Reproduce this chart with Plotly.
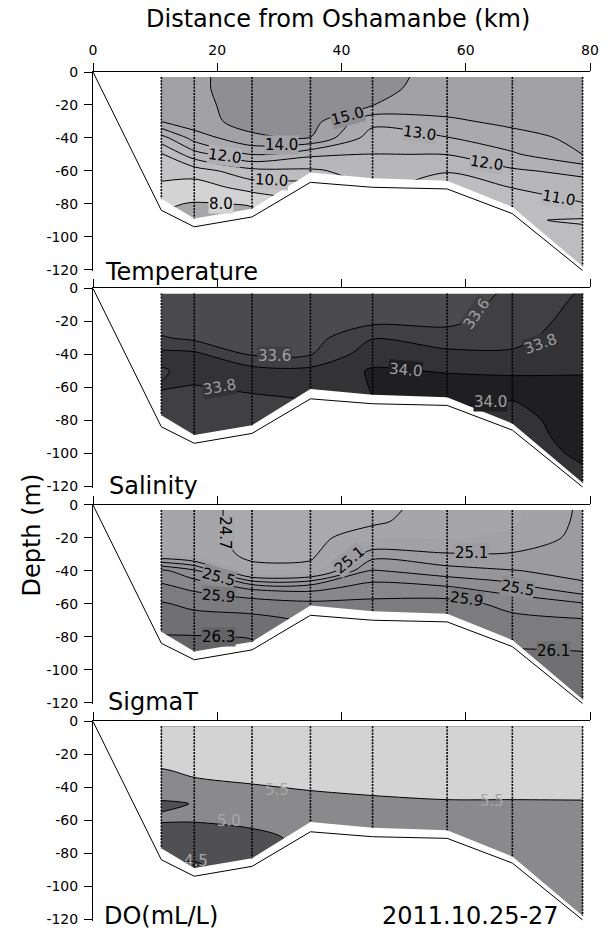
import plotly.graph_objects as go

# ---------------------------------------------------------------
# Section geometry
# ---------------------------------------------------------------
# station positions along the section (km from Oshamanbe)
stations_km = [11.0, 16.3, 25.6, 35.0, 45.0, 57.0, 67.5, 78.8]
# sampling depths of every profile (m)
depth_m = [-3, -10, -20, -30, -40, -50, -60, -70, -80, -90, -100, -110, -120]
# deepest sample at each station (m)
sample_bottom_m = [-77, -89, -83, -61, -64.5, -66, -82, -118]
# sea-floor profile
floor_km = [0.0, 11.0, 16.3, 25.6, 35.0, 45.0, 57.0, 67.5, 78.8]
floor_m = [0, -84, -94, -88, -67, -70, -71, -86, -120.5]

# ---------------------------------------------------------------
# Temperature (deg C), one profile per station
# ---------------------------------------------------------------
temp_11 = [14.6, 14.6, 14.5, 14.02, 11.6, 9.9, 9.35, 8.8, 8.1, 7.9, 7.9, 7.9, 7.9]
temp_16 = [14.8, 14.8, 14.75, 14.7, 13.4, 11.6, 9.5, 8.5, 7.95, 7.7, 7.7, 7.7, 7.7]
temp_26 = [15.5, 15.5, 15.4, 15.3, 14.85, 13.02, 10.7, 9.4, 8.05, 7.8, 7.8, 7.8, 7.8]
temp_35 = [15.6, 15.6, 15.5, 15.4, 14.98, 12.2, 10.85, 9.6, 9.02, 8.8, 8.8, 8.8, 8.8]
temp_45 = [15.4, 15.3, 15.02, 13.3, 12.5, 11.98, 11.4, 11.2, 10.98, 10.9, 10.9, 10.9, 10.9]
temp_57 = [14.6, 14.55, 14.4, 13.85, 12.95, 12.02, 11.05, 10.6, 10.4, 10.3, 10.3, 10.3, 10.3]
temp_67 = [14.5, 14.45, 14.35, 14.2, 13.7, 12.85, 11.85, 11.02, 10.5, 10.1, 10.2, 10.2, 10.2]
temp_79 = [14.4, 14.4, 14.35, 14.3, 14.2, 14.03, 12.3, 11.5, 10.95, 9.9, 10.3, 10.4, 10.4]

# ---------------------------------------------------------------
# Salinity
# ---------------------------------------------------------------
sal_11 = [33.45, 33.45, 33.5, 33.62, 33.86, 33.78, 33.81, 33.75, 33.72, 33.72, 33.72, 33.72, 33.72]
sal_16 = [33.45, 33.45, 33.48, 33.55, 33.85, 33.86, 33.79, 33.74, 33.72, 33.72, 33.72, 33.72, 33.72]
sal_26 = [33.45, 33.45, 33.47, 33.5, 33.58, 33.88, 33.83, 33.75, 33.73, 33.72, 33.72, 33.72, 33.72]
sal_35 = [33.45, 33.46, 33.48, 33.52, 33.59, 33.86, 33.85, 33.79, 33.78, 33.78, 33.78, 33.78, 33.78]
sal_45 = [33.42, 33.45, 33.55, 33.79, 33.92, 34.02, 34.01, 33.99, 33.98, 33.98, 33.98, 33.98, 33.98]
sal_57 = [33.45, 33.48, 33.55, 33.7, 33.85, 33.99, 34.06, 34.01, 33.98, 33.97, 33.97, 33.97, 33.97]
sal_67 = [33.65, 33.68, 33.72, 33.76, 33.82, 33.98, 34.05, 33.99, 33.95, 33.94, 33.94, 33.94, 33.94]
sal_79 = [33.82, 33.84, 33.86, 33.88, 33.92, 33.98, 34.06, 34.08, 34.07, 34.05, 34.02, 33.99, 33.98]

# ---------------------------------------------------------------
# Sigma-T
# ---------------------------------------------------------------
sigt_11 = [24.75, 24.76, 24.8, 24.88, 25.75, 25.95, 26.12, 26.22, 26.31, 26.36, 26.38, 26.38, 26.38]
sigt_16 = [24.74, 24.74, 24.75, 24.78, 25.55, 25.85, 26.05, 26.18, 26.31, 26.38, 26.4, 26.4, 26.4]
sigt_26 = [24.66, 24.66, 24.66, 24.67, 24.74, 25.65, 26.02, 26.15, 26.29, 26.35, 26.36, 26.36, 26.36]
sigt_35 = [24.6, 24.6, 24.62, 24.64, 24.8, 25.62, 25.95, 26.08, 26.12, 26.14, 26.14, 26.14, 26.14]
sigt_45 = [24.6, 24.65, 24.85, 25.2, 25.52, 25.78, 25.95, 26.05, 26.08, 26.08, 26.08, 26.08, 26.08]
sigt_57 = [24.85, 24.86, 24.88, 25.12, 25.38, 25.72, 25.98, 26.05, 26.08, 26.08, 26.08, 26.08, 26.08]
sigt_67 = [24.86, 24.87, 24.94, 25.12, 25.31, 25.58, 25.84, 25.95, 26.04, 26.12, 26.14, 26.14, 26.14]
sigt_79 = [25.14, 25.15, 25.17, 25.2, 25.24, 25.34, 25.72, 25.92, 26.02, 26.11, 26.16, 26.18, 26.19]

# ---------------------------------------------------------------
# Dissolved oxygen (mL/L)
# ---------------------------------------------------------------
do_11 = [6.0, 6.0, 5.8, 5.45, 5.2, 4.95, 5.05, 4.7, 4.6, 4.48, 4.45, 4.45, 4.45]
do_16 = [6.0, 6.0, 5.85, 5.6, 5.35, 5.01, 5.02, 4.85, 4.6, 4.4, 4.4, 4.4, 4.4]
do_26 = [6.0, 6.0, 5.9, 5.7, 5.45, 5.25, 5.1, 4.9, 4.85, 4.8, 4.8, 4.8, 4.8]
do_35 = [6.0, 6.0, 5.9, 5.75, 5.55, 5.3, 5.15, 5.1, 5.05, 5.05, 5.05, 5.05, 5.05]
do_45 = [6.0, 6.0, 5.9, 5.75, 5.6, 5.4, 5.25, 5.2, 5.2, 5.2, 5.2, 5.2, 5.2]
do_57 = [6.0, 6.0, 5.9, 5.8, 5.65, 5.45, 5.3, 5.2, 5.15, 5.1, 5.1, 5.1, 5.1]
do_67 = [6.0, 6.0, 5.9, 5.8, 5.65, 5.45, 5.3, 5.2, 5.15, 5.1, 5.1, 5.1, 5.1]
do_79 = [6.0, 6.0, 5.9, 5.8, 5.64, 5.46, 5.3, 5.2, 5.15, 5.1, 5.1, 5.1, 5.1]

# ---------------------------------------------------------------
# Contour labels: (km, depth, text, angle)
# ---------------------------------------------------------------
temp_labels = [(41.0, -27.0, "15.0", -15), (30.3, -44.3, "14.0", 0),
               (52.5, -37.0, "13.0", 8), (21.2, -51.3, "12.0", 8),
               (63.4, -55.0, "12.0", 8), (75.0, -76.5, "11.0", 10),
               (28.7, -65.5, "10.0", 3), (20.6, -80.3, "8.0", 0)]
sal_labels = [(29.2, -41.0, "33.6", 0), (20.4, -60.0, "33.8", -10),
              (50.3, -49.5, "34.0", 5), (64.0, -69.0, "34.0", 0),
              (61.7, -15.5, "33.6", -55), (72.0, -34.0, "33.8", -20)]
sigt_labels = [(21.2, -17.0, "24.7", 90), (41.3, -33.5, "25.1", -40),
               (20.2, -44.0, "25.5", 15), (20.2, -55.0, "25.9", 5),
               (20.2, -80.0, "26.3", 0), (60.9, -29.4, "25.1", 0),
               (68.3, -50.5, "25.5", 10), (60.1, -57.0, "25.9", 8),
               (74.1, -88.5, "26.1", 0)]
do_labels = [(29.6, -41.5, "5.5", 0), (64.2, -48.5, "5.5", 0),
             (21.9, -60.5, "5.0", 0), (16.6, -84.5, "4.5", 0)]

FONT = "DejaVu Sans"


def grid(profiles):
    """Stack station profiles into a z-matrix with depth ascending."""
    rows = [[prof[i] for prof in profiles] for i in range(len(depth_m))]
    return rows[::-1]


def stepped_scale(colors):
    """Piecewise-constant colorscale: one flat colour per filled band."""
    nc = len(colors) - 1
    scale = []
    for j, c in enumerate(colors):
        lo = max(0.0, (j - 0.5) / nc)
        hi = min(1.0, (j + 0.5) / nc)
        scale += [[lo, c], [hi, c]]
    return scale


def band_color(levels, colors, v):
    j = sum(1 for L in levels if L < v)
    return colors[j]


panels = [
    dict(name="Temperature",
         profiles=[temp_11, temp_16, temp_26, temp_35, temp_45, temp_57, temp_67, temp_79],
         fill=(8.0, 15.0, 1.0),
         lines=[(8.0, 15.0, 1.0)],
         colors=["#a7a7a9", "#d3d3d3", "#c4c4c6", "#bdbdc0", "#b7b7ba",
                 "#b0b0b4", "#aaaaae", "#a2a2a6", "#8e8e93"],
         labels=temp_labels, label_color="black", label_bg=True),
    dict(name="Salinity",
         profiles=[sal_11, sal_16, sal_26, sal_35, sal_45, sal_57, sal_67, sal_79],
         fill=(33.6, 34.0, 0.2),
         lines=[(33.6, 34.0, 0.2)],
         colors=["#4b4b4d", "#404042", "#333335", "#1f1f21"],
         labels=sal_labels, label_color="#a0a0a0", label_bg=True),
    dict(name="SigmaT",
         profiles=[sigt_11, sigt_16, sigt_26, sigt_35, sigt_45, sigt_57, sigt_67, sigt_79],
         fill=(24.7, 26.3, 0.2),
         lines=[(24.7, 24.7, 0.2), (25.1, 26.3, 0.2)],
         colors=["#aaaaae", "#a6a6aa", "#a2a2a6", "#9c9ca0", "#96969a",
                 "#8e8e92", "#88888b", "#7c7c7f", "#707073", "#636366"],
         labels=sigt_labels, label_color="black", label_bg=True),
    dict(name="DO(mL/L)",
         profiles=[do_11, do_16, do_26, do_35, do_45, do_57, do_67, do_79],
         fill=(4.5, 5.5, 0.5),
         lines=[(4.5, 5.5, 0.5)],
         colors=["#3c3c3e", "#505052", "#8a8a8c", "#d3d3d3"],
         labels=do_labels, label_color="#a8a8a8", label_bg=False),
]

# page layout (pixels)
W, HGT = 609, 938
M_L, M_R, M_T, M_B = 93, 12, 72, 10
PLOT_H = HGT - M_T - M_B
PANEL_STEP = 218.0
PANEL_H = 200.7            # pixels spanned by 0 .. -121 m
Y_RANGE = [-121, 0]
SMOOTH = 0.85

y_grid = depth_m[::-1]
fig = go.Figure()
layout = dict(
    width=W, height=HGT,
    margin=dict(l=M_L, r=M_R, t=M_T, b=M_B, pad=0),
    paper_bgcolor="white", plot_bgcolor="white",
    showlegend=False,
    font=dict(family=FONT, size=14, color="black"),
)
annotations = []

for k, p in enumerate(panels):
    suffix = "" if k == 0 else str(k + 1)
    xr, yr = "x" + suffix, "y" + suffix
    z = grid(p["profiles"])
    s, e, sz = p["fill"]
    levels = []
    v = s
    while v <= e + 1e-9:
        levels.append(round(v, 4))
        v += sz

    # filled bands
    fig.add_trace(go.Contour(
        x=stations_km, y=y_grid, z=z, xaxis=xr, yaxis=yr,
        autocontour=False,
        contours=dict(start=s, end=e, size=sz, coloring="fill", showlines=False),
        colorscale=stepped_scale(p["colors"]), showscale=False,
        line=dict(width=0, smoothing=SMOOTH), hoverinfo="skip",
    ))
    # isolines
    for (ls, le, lsz) in p["lines"]:
        fig.add_trace(go.Contour(
            x=stations_km, y=y_grid, z=z, xaxis=xr, yaxis=yr,
            autocontour=False,
            contours=dict(start=ls, end=le, size=lsz, coloring="none", showlines=True),
            showscale=False,
            line=dict(color="black", width=1, smoothing=SMOOTH), hoverinfo="skip",
        ))
    # blank out everything below the deepest samples
    x0, x1 = stations_km[0] - 0.6, stations_km[-1] + 0.6
    fig.add_trace(go.Scatter(
        x=[x0] + stations_km + [x1, x1, x0],
        y=[sample_bottom_m[0]] + sample_bottom_m + [sample_bottom_m[-1], -140, -140],
        xaxis=xr, yaxis=yr, mode="lines", fill="toself",
        fillcolor="white", line=dict(width=0, color="white"), hoverinfo="skip",
    ))
    # sea floor
    fig.add_trace(go.Scatter(
        x=floor_km, y=floor_m, xaxis=xr, yaxis=yr, mode="lines",
        line=dict(color="black", width=1), hoverinfo="skip",
    ))
    # station casts
    sx, sy = [], []
    for xs, bot in zip(stations_km, sample_bottom_m):
        sx += [xs, xs, None]
        sy += [depth_m[0], bot, None]
    fig.add_trace(go.Scatter(
        x=sx, y=sy, xaxis=xr, yaxis=yr, mode="lines",
        line=dict(color="black", width=1.6, dash="2px,1.2px"), hoverinfo="skip",
    ))

    top = PANEL_STEP * k
    bot = min(top + PANEL_H, PLOT_H)
    layout["xaxis" + suffix] = dict(
        domain=[0, 1], anchor=yr, side="top", range=[0, 80],
        tickvals=[0, 20, 40, 60, 80], ticktext=["0", "20", "40", "60", "80"],
        showticklabels=(k == 0), ticks="outside", ticklen=8, tickwidth=1,
        tickcolor="black", showline=True, linecolor="black", linewidth=1,
        showgrid=False, zeroline=False, tickfont=dict(size=14, family=FONT),
        ticklabelstandoff=2,
    )
    layout["yaxis" + suffix] = dict(
        domain=[max(0.0, 1 - bot / PLOT_H), 1 - top / PLOT_H], anchor=xr, range=Y_RANGE,
        tickvals=[-120, -100, -80, -60, -40, -20, 0],
        ticktext=["-120", "-100", "-80", "-60", "-40", "-20", "0"],
        ticks="outside", ticklen=8, tickwidth=1, tickcolor="black",
        showline=True, linecolor="black", linewidth=1,
        showgrid=False, zeroline=False, tickfont=dict(size=14, family=FONT),
        ticklabelstandoff=3,
    )

    # contour value labels
    for (lx, ly, txt, ang) in p["labels"]:
        bg = (band_color(levels, p["colors"], float(txt) + 1e-6)
              if p["label_bg"] else "rgba(0,0,0,0)")
        annotations.append(dict(
            x=lx, y=ly, xref=xr, yref=yr, text=txt, showarrow=False,
            textangle=ang, font=dict(family=FONT, size=15, color=p["label_color"]),
            bgcolor=bg, borderpad=0, xanchor="center", yanchor="middle",
        ))


def px_to_paper(px, py):
    return (px - M_L) / (W - M_L - M_R), 1 - (py - M_T) / PLOT_H


# panel names and headings
for name, (px, py) in zip(["Temperature", "Salinity", "SigmaT", "DO(mL/L)"],
                          [(103, 273), (107, 489), (106, 706), (102, 922)]):
    ax_, ay_ = px_to_paper(px, py)
    annotations.append(dict(x=ax_, y=ay_, xref="paper", yref="paper", text=name,
                            showarrow=False, xanchor="left", yanchor="middle",
                            font=dict(family=FONT, size=24, color="black")))

ax_, ay_ = px_to_paper(568, 922)
annotations.append(dict(x=ax_, y=ay_, xref="paper", yref="paper", text="2011.10.25-27",
                        showarrow=False, xanchor="right", yanchor="middle",
                        font=dict(family=FONT, size=24, color="black")))
ax_, ay_ = px_to_paper(341, 19)
annotations.append(dict(x=ax_, y=ay_, xref="paper", yref="paper",
                        text="Distance from Oshamanbe (km)", showarrow=False,
                        xanchor="center", yanchor="middle",
                        font=dict(family=FONT, size=24, color="black")))
ax_, ay_ = px_to_paper(31, 538)
annotations.append(dict(x=ax_, y=ay_, xref="paper", yref="paper", text="Depth (m)",
                        showarrow=False, textangle=-90, xanchor="center", yanchor="middle",
                        font=dict(family=FONT, size=24, color="black")))

layout["annotations"] = annotations
fig.update_layout(**layout)
fig.write_html("out.html")
